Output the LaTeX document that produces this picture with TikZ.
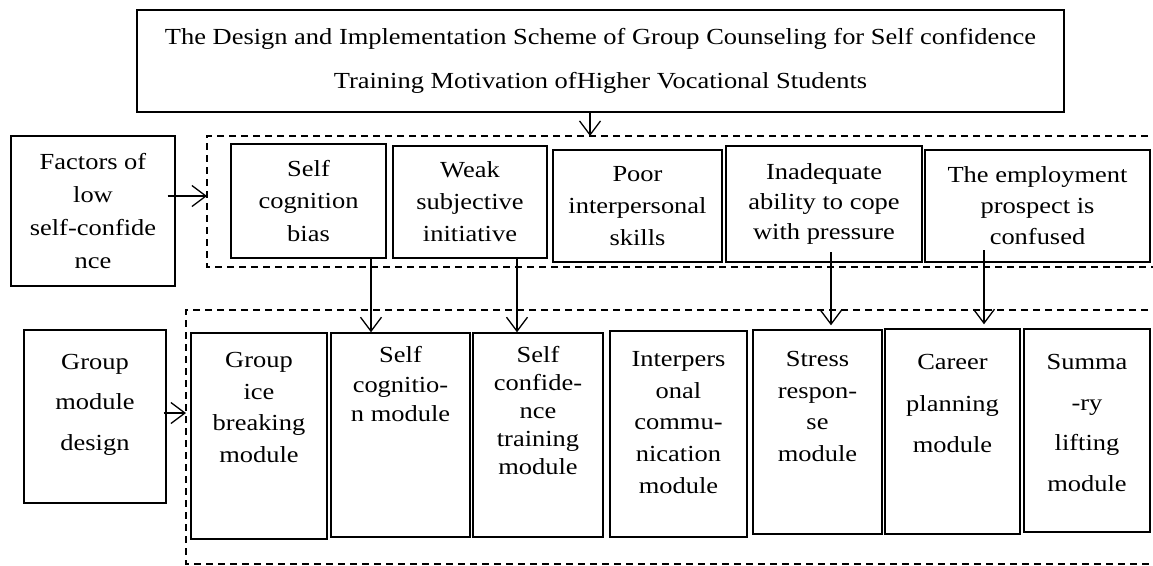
\documentclass[tikz,border=0pt]{standalone}
\usepackage{fontspec}
\setmainfont{Liberation Serif}[FakeStretch=1.15]
\usetikzlibrary{arrows.meta,calc}
\begin{document}
\begin{tikzpicture}[x=1pt,y=-1pt,
  box/.style={draw, line width=1.4pt, inner sep=0pt, align=center},
  txt/.style={inner sep=0pt, align=center},
  frame/.style={draw, line width=1.1pt, dash pattern=on 7pt off 5pt},
  arr/.style={line width=1.3pt, -{Straight Barb[length=14pt,width=21pt,line width=1.3pt]}},
  fs/.style={font=\fontsize{23}{#1}\selectfont},
]
\useasboundingbox (0,0) rectangle (1153,565);

% title
\node[box, fs=44, minimum width=927pt, minimum height=102pt] (title) at (600.5,61)
  {The Design and Implementation Scheme of Group Counseling for Self confidence\\
   Training Motivation ofHigher Vocational Students};

% factors row
\node[box, fs=33, minimum width=164pt, minimum height=150pt] (fac) at (93,211)
  {Factors of\\low\\self-confide\\nce};
\draw[frame] (1160,136) -- (207,136) -- (207,267) -- (1160,267);
\coordinate (upin) at (207,196);
\coordinate (uptop) at (590,136);

\node[box, fs=32.5, minimum width=155pt, minimum height=114pt] (u1) at (308.5,201)
  {Self\\cognition\\bias};
\node[box, fs=32, minimum width=154pt, minimum height=112pt] (u2) at (470,202)
  {Weak\\subjective\\initiative};
\node[box, fs=32, minimum width=169pt, minimum height=112pt] (u3) at (637.5,206)
  {Poor\\interpersonal\\skills};
\node[box, fs=30, minimum width=196pt, minimum height=116pt] (u4) at (824,204)
  {Inadequate\\ability to cope\\with pressure};
\node[box, fs=31, minimum width=225pt, minimum height=112pt] (u5) at (1037.5,206)
  {The employment\\prospect is\\confused};

% module row
\node[box, minimum width=142pt, minimum height=173pt] (gmd) at (95,416.5) {};
\node[txt, fs=40.5] at (95,404.5) {Group\\module\\design};
\draw[frame] (1160,310) -- (186,310) -- (186,564) -- (1160,564);
\coordinate (lowin) at (186,413);

\node[box, minimum width=136pt, minimum height=206pt] (l1) at (259,436) {};
\node[txt, fs=31.7] at (259,407.5) {Group\\ice\\breaking\\module};
\node[box, minimum width=139pt, minimum height=204pt] (l2) at (400.5,435) {};
\node[txt, fs=29.5] at (400.5,384.5) {Self\\cognitio-\\n module};
\node[box, minimum width=130pt, minimum height=204pt] (l3) at (538,435) {};
\node[txt, fs=28] at (538,411) {Self\\confide-\\nce\\training\\module};
\node[box, minimum width=137pt, minimum height=206pt] (l4) at (678.5,434) {};
\node[txt, fs=31.75] at (678.5,422.5) {Interpers\\onal\\commu-\\nication\\module};
\node[box, minimum width=129pt, minimum height=204pt] (l5) at (817.5,432) {};
\node[txt, fs=31.7] at (817.5,406.5) {Stress\\respon-\\se\\module};
\node[box, minimum width=135pt, minimum height=205pt] (l6) at (952.5,431.5) {};
\node[txt, fs=41.5] at (952.5,403.5) {Career\\planning\\module};
\node[box, minimum width=126pt, minimum height=203pt] (l7) at (1087,430.5) {};
\node[txt, fs=40.7] at (1087,423) {Summa\\-ry\\lifting\\module};

% connectors
\draw[arr] (title.south -| uptop) -- (uptop);
\draw[arr] ([xshift=-8pt]fac.east |- upin) -- (upin);
\draw[arr] ([xshift=-3pt]gmd.east |- lowin) -- (lowin);

\coordinate (c1) at (371,300);
\coordinate (c2) at (517,300);
\coordinate (c4) at (831,252);
\coordinate (c5) at (984,250);
\draw[arr] (u1.south -| c1) -- (l2.north -| c1);
\draw[arr] (u2.south -| c2) -- (l3.north -| c2);
\draw[arr] (c4) -- ([yshift=4pt]l5.north -| c4);
\draw[arr] (c5) -- ([yshift=4pt]l6.north -| c5);
\end{tikzpicture}
\end{document}
